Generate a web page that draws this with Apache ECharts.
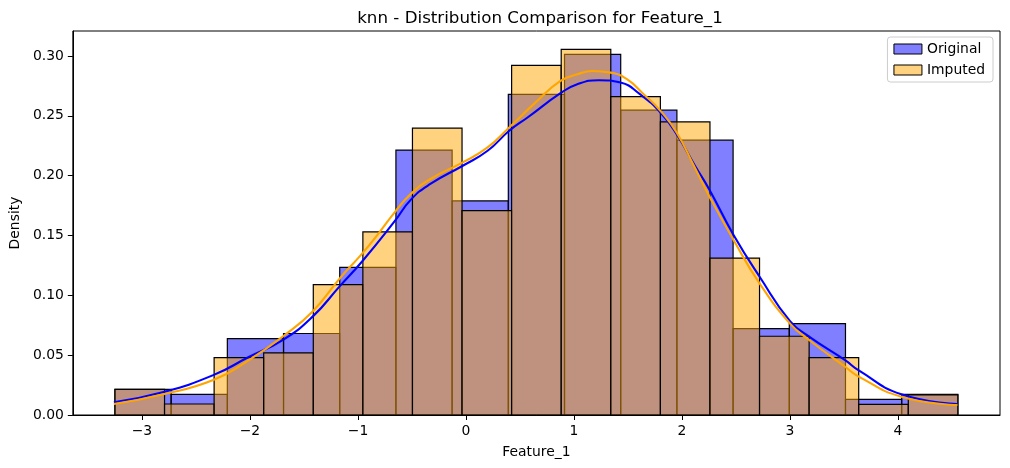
<!DOCTYPE html>
<html>
<head>
<meta charset="utf-8">
<title>knn - Distribution Comparison for Feature_1</title>
<script src="https://cdn.jsdelivr.net/npm/echarts@6/dist/echarts.min.js"></script>
<style>
  html, body { margin: 0; padding: 0; background: #fff; }
  #chart { width: 1010px; height: 468px; }
</style>
</head>
<body>
<div id="chart"></div>
<script>
// range shared by both histograms (bins are evenly split over it)
var dataLo = -3.250;
var dataHi = 4.554;

// density per bin
var origHeights = [0.0214, 0.0172, 0.0639, 0.0681, 0.1233, 0.2214, 0.1789, 0.2680,
                   0.3014, 0.2547, 0.2297, 0.0722, 0.0764, 0.0131, 0.0172];
var impHeights = [0.0214, 0.0092, 0.0480, 0.0520, 0.1090, 0.1530, 0.2397, 0.1708, 0.2922,
                  0.3056, 0.2661, 0.2450, 0.1311, 0.0658, 0.0480, 0.0089, 0.0169];

// kde curves
var origKdeX = [-3.26, -2.80, -2.34, -2.02, -1.69, -1.42, -1.17, -0.96, -0.66, -0.51,
                -0.33, -0.03, 0.20, 0.40, 0.57, 0.875, 1.03, 1.23, 1.43, 1.61,
                1.80, 1.95, 2.12, 2.25, 2.48, 2.72, 3.00, 3.18, 3.51, 3.64,
                4.03, 4.55];
var origKdeY = [0.0106, 0.0192, 0.0333, 0.0480, 0.0630, 0.0822, 0.1075, 0.1285, 0.1620, 0.1800,
                0.1931, 0.2083, 0.2208, 0.2375, 0.2486, 0.2689, 0.2764, 0.2798, 0.2778, 0.2681,
                0.2528, 0.2347, 0.2083, 0.1889, 0.1500, 0.1153, 0.0785, 0.0653, 0.0458, 0.0370,
                0.0173, 0.0092];
var impKdeX = [-3.26, -2.80, -2.34, -2.02, -1.69, -1.42, -1.17, -0.97, -0.82, -0.655,
               -0.51, -0.33, -0.03, 0.20, 0.40, 0.66, 0.875, 1.03, 1.17, 1.34,
               1.49, 1.645, 1.80, 1.95, 2.11, 2.25, 2.48, 2.72, 3.00, 3.18,
               3.51, 3.64, 4.03, 4.55];
var impKdeY = [0.0092, 0.0173, 0.0292, 0.0453, 0.0660, 0.0865, 0.1140, 0.1340, 0.1505, 0.1700,
               0.1848, 0.1972, 0.2111, 0.2236, 0.2403, 0.2625, 0.2792, 0.2847, 0.2875, 0.2861,
               0.2806, 0.2681, 0.2542, 0.2361, 0.2083, 0.1833, 0.1458, 0.1097, 0.0764, 0.0625,
               0.0403, 0.0319, 0.0153, 0.0083];

var xTicks = [-3, -2, -1, 0, 1, 2, 3, 4];
var yTicks = [0, 0.05, 0.10, 0.15, 0.20, 0.25, 0.30];

var FONT = 'DejaVu Sans';
var ORIG_FILL = 'rgba(0,0,255,0.5)';
var IMP_FILL = 'rgba(255,165,0,0.5)';

function pairs(xs, ys) {
    var out = [];
    for (var i = 0; i < xs.length; i++) out.push([xs[i], ys[i]]);
    return out;
}

// one bar per bin: [left edge, right edge, density]
function histSeries(name, heights, fill) {
    var w = (dataHi - dataLo) / heights.length;
    var data = heights.map(function (h, i) {
        return [dataLo + i * w, dataLo + (i + 1) * w, h];
    });
    return {
        name: name,
        type: 'custom',
        z: 2,
        data: data,
        encode: { x: [0, 1], y: 2 },
        itemStyle: { color: fill, borderColor: '#000', borderWidth: 1.2 },
        renderItem: function (params, api) {
            var p0 = api.coord([api.value(0), api.value(2)]);
            var p1 = api.coord([api.value(1), 0]);
            return {
                type: 'rect',
                shape: { x: p0[0], y: p0[1], width: p1[0] - p0[0], height: p1[1] - p0[1] },
                style: { fill: fill, stroke: '#000', lineWidth: 1.2 }
            };
        }
    };
}

function kdeSeries(name, xs, ys, color) {
    return {
        name: name + ' kde',
        type: 'line',
        z: 3,
        data: pairs(xs, ys),
        smooth: 0.5,
        showSymbol: false,
        silent: true,
        lineStyle: { color: color, width: 2.1 },
        itemStyle: { color: color }
    };
}

function fmtMinus(v) {
    return v < 0 ? '\u2212' + Math.abs(v) : String(v);
}

var myChart = echarts.init(document.getElementById('chart'));

var option = {
    animation: false,
    backgroundColor: '#fff',
    textStyle: { fontFamily: FONT },
    title: {
        text: 'knn - Distribution Comparison for Feature_1',
        left: 535,
        textAlign: 'center',
        top: 5,
        textStyle: { fontFamily: FONT, fontSize: 16.7, fontWeight: 'normal', color: '#000' }
    },
    legend: {
        orient: 'vertical',
        right: 17,
        top: 37,
        padding: [5, 8, 5, 6],
        itemWidth: 28,
        itemHeight: 10,
        itemGap: 7,
        backgroundColor: 'rgba(255,255,255,0.8)',
        borderColor: '#cccccc',
        borderWidth: 1,
        borderRadius: 3,
        textStyle: { fontFamily: FONT, fontSize: 13.9, color: '#000' },
        data: [
            { name: 'Original', icon: 'rect', itemStyle: { color: ORIG_FILL, borderColor: '#000', borderWidth: 1 } },
            { name: 'Imputed', icon: 'rect', itemStyle: { color: IMP_FILL, borderColor: '#000', borderWidth: 1 } }
        ]
    },
    grid: {
        left: 70,
        right: 10,
        top: 31,
        bottom: 53,
        show: true,
        borderColor: '#000',
        borderWidth: 1,
        backgroundColor: 'transparent'
    },
    xAxis: {
        type: 'value',
        min: -3.640,
        max: 4.944,
        name: 'Feature_1',
        nameLocation: 'middle',
        nameGap: 30,
        nameTextStyle: { fontFamily: FONT, fontSize: 13.9, color: '#000' },
        splitLine: { show: false },
        axisLine: { show: true, onZero: false, lineStyle: { color: '#000', width: 1 } },
        axisTick: { show: true, length: 5, customValues: xTicks, lineStyle: { color: '#000' } },
        axisLabel: {
            customValues: xTicks,
            margin: 9,
            fontFamily: FONT,
            fontSize: 13.9,
            color: '#000',
            formatter: fmtMinus
        }
    },
    yAxis: {
        type: 'value',
        min: 0,
        max: 0.3209,
        name: 'Density',
        nameLocation: 'middle',
        nameGap: 49,
        nameTextStyle: { fontFamily: FONT, fontSize: 13.9, color: '#000' },
        splitLine: { show: false },
        axisLine: { show: true, onZero: false, lineStyle: { color: '#000', width: 1 } },
        axisTick: { show: true, length: 5, customValues: yTicks, lineStyle: { color: '#000' } },
        axisLabel: {
            customValues: yTicks,
            margin: 9,
            fontFamily: FONT,
            fontSize: 13.9,
            color: '#000',
            formatter: function (v) { return v.toFixed(2); }
        }
    },
    series: [
        histSeries('Original', origHeights, ORIG_FILL),
        histSeries('Imputed', impHeights, IMP_FILL),
        kdeSeries('Original', origKdeX, origKdeY, '#0000ff'),
        kdeSeries('Imputed', impKdeX, impKdeY, '#ffa500')
    ]
};

myChart.setOption(option);
</script>
</body>
</html>
